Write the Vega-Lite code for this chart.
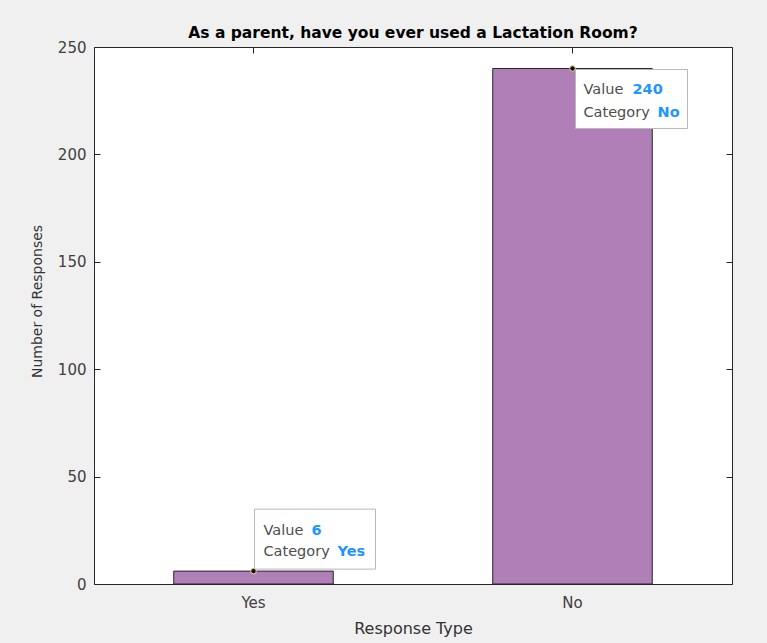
{
  "$schema": "https://vega.github.io/schema/vega-lite/v6.json",
  "autosize": "none",
  "width": 638,
  "height": 537,
  "padding": {"left": 94, "top": 47, "right": 35, "bottom": 59},
  "background": "#f0f0f0",
  "view": {"fill": "#ffffff", "stroke": "#262626", "strokeWidth": 1},
  "config": {
    "font": "DejaVu Sans",
    "axis": {"grid": false, "domain": false, "labelFontWeight": "normal"}
  },
  "title": {
    "text": "As a parent, have you ever used a Lactation Room?",
    "font": "DejaVu Sans",
    "fontSize": 15.5,
    "fontWeight": "bold",
    "color": "#000000",
    "offset": -1,
    "anchor": "middle"
  },
  "data": {
    "values": [
      {"Category": "Yes", "Value": 6},
      {"Category": "No", "Value": 240}
    ]
  },
  "layer": [
    {
      "mark": {"type": "bar", "fill": "#b07fb8", "stroke": "#262626", "strokeWidth": 1},
      "encoding": {
        "x": {
          "field": "Category",
          "type": "nominal",
          "sort": ["Yes", "No"],
          "scale": {"paddingInner": 0.5, "paddingOuter": 0.25},
          "axis": {
            "orient": "bottom",
            "title": "Response Type",
            "titleFont": "DejaVu Sans",
            "titleFontSize": 16,
            "titleFontWeight": "normal",
            "titleColor": "#333333",
            "titlePadding": 10,
            "labelAngle": 0,
            "labelFontSize": 15,
            "labelColor": "#404040",
            "labelPadding": 17,
            "tickSize": -6,
            "tickColor": "#262626"
          }
        },
        "y": {
          "field": "Value",
          "type": "quantitative",
          "scale": {"domain": [0, 250], "nice": false},
          "axis": {
            "orient": "left",
            "title": "Number of Responses",
            "titleFont": "DejaVu Sans",
            "titleFontSize": 14,
            "titleFontWeight": "normal",
            "titleColor": "#333333",
            "titlePadding": 13,
            "titleY": 254,
            "values": [0, 50, 100, 150, 200, 250],
            "labelFontSize": 15,
            "labelColor": "#404040",
            "labelPadding": 14,
            "tickSize": -6,
            "tickColor": "#262626"
          }
        }
      }
    },
    {
      "mark": {"type": "tick", "opacity": 0},
      "encoding": {
        "x": {
          "field": "Category",
          "type": "nominal",
          "sort": ["Yes", "No"],
          "scale": {"paddingInner": 0.5, "paddingOuter": 0.25},
          "axis": {"orient": "top", "labels": false, "title": null, "tickSize": -6, "tickColor": "#262626"}
        },
        "y": {
          "field": "Value",
          "type": "quantitative",
          "scale": {"domain": [0, 250], "nice": false},
          "axis": {"orient": "right", "labels": false, "title": null, "tickSize": -6, "tickColor": "#262626", "values": [0, 50, 100, 150, 200, 250]}
        }
      }
    },
    {
      "mark": {"type": "point", "filled": true, "fill": "#ffffff", "stroke": "#b8b8b8", "strokeWidth": 1, "opacity": 1, "size": 4},
      "encoding": {
        "x": {"field": "Category", "type": "nominal", "sort": ["Yes", "No"], "axis": null},
        "y": {"field": "Value", "type": "quantitative", "axis": null},
        "shape": {
          "field": "Category",
          "type": "nominal",
          "scale": {"domain": ["Yes", "No"], "range": ["M1,-62 H122 V-2 H1 Z", "M3,1 H115 V60 H3 Z"]},
          "legend": null
        }
      }
    },
    {
      "mark": {"type": "point", "filled": true, "fill": "#111111", "stroke": "#e0d8a8", "strokeWidth": 1, "opacity": 1, "size": 30},
      "encoding": {
        "x": {"field": "Category", "type": "nominal", "sort": ["Yes", "No"], "axis": null},
        "y": {"field": "Value", "type": "quantitative", "axis": null}
      }
    },
    {
      "transform": [{"filter": "datum.Category === 'No'"}],
      "encoding": {
        "x": {"field": "Category", "type": "nominal", "sort": ["Yes", "No"], "axis": null},
        "y": {"field": "Value", "type": "quantitative", "axis": null}
      },
      "layer": [
        {"mark": {"type": "text", "text": "Value", "align": "left", "baseline": "alphabetic", "dx": 11, "dy": 26, "fontSize": 14.5, "fill": "#4d4d4d"}},
        {"mark": {"type": "text", "text": "Category", "align": "left", "baseline": "alphabetic", "dx": 11, "dy": 49, "fontSize": 14.5, "fill": "#4d4d4d"}},
        {"mark": {"type": "text", "align": "left", "baseline": "alphabetic", "dx": 60, "dy": 26, "fontSize": 14.5, "fontWeight": "bold", "fill": "#1e96ff"}, "encoding": {"text": {"field": "Value", "type": "quantitative"}}},
        {"mark": {"type": "text", "align": "left", "baseline": "alphabetic", "dx": 85, "dy": 49, "fontSize": 14.5, "fontWeight": "bold", "fill": "#1e96ff"}, "encoding": {"text": {"field": "Category", "type": "nominal"}}}
      ]
    },
    {
      "transform": [{"filter": "datum.Category === 'Yes'"}],
      "encoding": {
        "x": {"field": "Category", "type": "nominal", "sort": ["Yes", "No"], "axis": null},
        "y": {"field": "Value", "type": "quantitative", "axis": null}
      },
      "layer": [
        {"mark": {"type": "text", "text": "Value", "align": "left", "baseline": "alphabetic", "dx": 10, "dy": -36, "fontSize": 14.5, "fill": "#4d4d4d"}},
        {"mark": {"type": "text", "text": "Category", "align": "left", "baseline": "alphabetic", "dx": 10, "dy": -15, "fontSize": 14.5, "fill": "#4d4d4d"}},
        {"mark": {"type": "text", "align": "left", "baseline": "alphabetic", "dx": 58, "dy": -36, "fontSize": 14.5, "fontWeight": "bold", "fill": "#1e96ff"}, "encoding": {"text": {"field": "Value", "type": "quantitative"}}},
        {"mark": {"type": "text", "align": "left", "baseline": "alphabetic", "dx": 84, "dy": -15, "fontSize": 14.5, "fontWeight": "bold", "fill": "#1e96ff"}, "encoding": {"text": {"field": "Category", "type": "nominal"}}}
      ]
    }
  ],
  "resolve": {"axis": {"x": "independent", "y": "independent"}}
}
